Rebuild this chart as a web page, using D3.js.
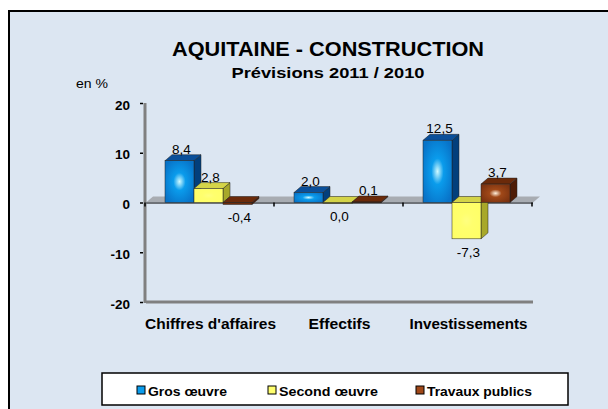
<!DOCTYPE html>
<html>
<head>
<meta charset="utf-8">
<script src="https://cdn.jsdelivr.net/npm/d3@7"></script>
<style>
  body { margin: 0; background: #fff; }
  svg { display: block; font-family: "Liberation Sans", Arial, sans-serif; }
</style>
</head>
<body>
<div id="chart"></div>
<script>
const W = 608, H = 409;

// data
const categories = ["Chiffres d'affaires", "Effectifs", "Investissements"];
const seriesNames = ["Gros œuvre", "Second œuvre", "Travaux publics"];
const grosOeuvre = [8.4, 2.0, 12.5];
const secondOeuvre = [2.8, 0.0, -7.3];
const travauxPublics = [-0.4, 0.1, 3.7];
const yTicks = [-20, -10, 0, 10, 20];

const seriesValues = [grosOeuvre, secondOeuvre, travauxPublics];

// colours per series: front (edge, centre), top, side
const palette = [
  {edge: "#0873c8", mid: "#0a9cec", hi: "#d0faff", top: "#0a4f9a", side: "#023f7c"},
  {edge: "#ffff66", mid: "#ffff6e", hi: "#ffff80", top: "#d4d448", side: "#a8a82a"},
  {edge: "#7a3210", mid: "#a04818", hi: "#fff0dc", top: "#6b2a0a", side: "#4e1c06"}
];

const dx = 7, dy = -6; // 3d depth

const svg = d3.select("#chart").append("svg")
  .attr("width", W).attr("height", H);

const defs = svg.append("defs");
palette.forEach((p, i) => {
  const g = defs.append("radialGradient").attr("id", "grad" + i)
    .attr("cx", "50%").attr("cy", "50%").attr("r", "60%");
  g.append("stop").attr("offset", "0%").attr("stop-color", p.hi);
  g.append("stop").attr("offset", "35%").attr("stop-color", p.mid);
  g.append("stop").attr("offset", "100%").attr("stop-color", p.edge);
});

// background box
svg.append("rect")
  .attr("x", 9).attr("y", 11).attr("width", W + 10).attr("height", H + 10)
  .attr("fill", "#dce6f2").attr("stroke", "#000").attr("stroke-width", 2);

// titles
svg.append("text").attr("x", 328).attr("y", 56)
  .attr("text-anchor", "middle").attr("font-weight", "bold")
  .attr("font-size", 19.5).attr("textLength", 312).attr("lengthAdjust", "spacingAndGlyphs")
  .text("AQUITAINE - CONSTRUCTION");
svg.append("text").attr("x", 328).attr("y", 78)
  .attr("text-anchor", "middle").attr("font-weight", "bold")
  .attr("font-size", 15).attr("textLength", 193).attr("lengthAdjust", "spacingAndGlyphs")
  .text("Prévisions 2011 / 2010");
svg.append("text").attr("x", 92).attr("y", 88)
  .attr("text-anchor", "middle").attr("font-size", 13.5)
  .attr("textLength", 32).attr("lengthAdjust", "spacingAndGlyphs")
  .text("en %");

// scales
const x = d3.scaleBand().domain(categories).range([145, 532]);
const xs = d3.scaleBand().domain(seriesNames).range([20, 107]);
const y = d3.scaleLinear().domain([-20, 20]).range([302, 103]);

// y axis wall edge
svg.append("line")
  .attr("x1", 145).attr("x2", 145).attr("y1", y(20)).attr("y2", y(-20) + 1)
  .attr("stroke", "#808080").attr("stroke-width", 3);
svg.append("line")
  .attr("x1", 146).attr("x2", 533).attr("y1", y(-20)).attr("y2", y(-20))
  .attr("stroke", "#808080").attr("stroke-width", 3);

const yAxis = d3.axisLeft(y).tickValues(yTicks).tickSize(3).tickPadding(10)
  .tickFormat(d => String(d));
const ya = svg.append("g").attr("transform", "translate(143,0)").call(yAxis);
ya.select(".domain").remove();
ya.selectAll(".tick line").attr("stroke", "#000").attr("stroke-width", 1.5);
ya.selectAll(".tick text").attr("font-size", 13.5).attr("font-weight", "bold")
  .attr("dy", "0.45em")
  .attr("font-family", "Liberation Sans, Arial, sans-serif").attr("fill", "#000");

// zero floor band
svg.append("polygon")
  .attr("points", [[146, y(0)], [146 + dx, y(0) + dy], [533 + dx, y(0) + dy], [533, y(0)]].join(" "))
  .attr("fill", "#a8acb2");
svg.append("line")
  .attr("x1", 146).attr("x2", 533).attr("y1", y(0) + 0.5).attr("y2", y(0) + 0.5)
  .attr("stroke", "#6e7278").attr("stroke-width", 2);

// x ticks on zero line
const xTickPos = [145, ...categories.map(c => x(c) + x.bandwidth())];
svg.selectAll(".xt").data(xTickPos).enter().append("line")
  .attr("x1", d => d).attr("x2", d => d)
  .attr("y1", y(0)).attr("y2", y(0) + 4)
  .attr("stroke", "#000").attr("stroke-width", 1.5);

// category labels
const catWidths = [131, 62, 118];
svg.selectAll(".cat").data(categories).enter().append("text")
  .attr("x", d => x(d) + x.bandwidth() / 2 + 1).attr("y", 329)
  .attr("text-anchor", "middle").attr("font-weight", "bold").attr("font-size", 15.5)
  .attr("textLength", (d, i) => catWidths[i]).attr("lengthAdjust", "spacingAndGlyphs")
  .text(d => d);

// bars
const bars = [];
seriesValues.forEach((vals, si) => {
  vals.forEach((v, ci) => {
    bars.push({s: si, c: ci, v: v});
  });
});

const order = bars.slice().sort((a, b) => (a.c - b.c) || (a.s - b.s));
order.forEach(b => {
  const p = palette[b.s];
  const x0 = x(categories[b.c]) + xs(seriesNames[b.s]);
  const w = xs.bandwidth();
  const yTop = Math.min(y(b.v), y(0));
  const yBot = Math.max(y(b.v), y(0));
  const h = Math.max(yBot - yTop, 0.8);
  const g = svg.append("g");
  // side
  g.append("polygon")
    .attr("points", [[x0 + w, yTop], [x0 + w + dx, yTop + dy], [x0 + w + dx, yTop + h + dy], [x0 + w, yTop + h]].join(" "))
    .attr("fill", p.side).attr("stroke", "#222").attr("stroke-width", 0.5);
  // top
  g.append("polygon")
    .attr("points", [[x0, yTop], [x0 + dx, yTop + dy], [x0 + w + dx, yTop + dy], [x0 + w, yTop]].join(" "))
    .attr("fill", p.top).attr("stroke", "#222").attr("stroke-width", 0.5);
  // front
  g.append("rect")
    .attr("x", x0).attr("y", yTop).attr("width", w).attr("height", h)
    .attr("fill", h > 4 ? "url(#grad" + b.s + ")" : p.top)
    .attr("stroke", "#222").attr("stroke-width", 0.5);
});

// value labels
const fmt = v => v.toFixed(1).replace(".", ",");
bars.forEach(b => {
  const x0 = x(categories[b.c]) + xs(seriesNames[b.s]);
  const w = xs.bandwidth();
  const above = b.v > 0.05;
  svg.append("text")
    .attr("x", x0 + w / 2 + 2)
    .attr("y", above ? y(b.v) - 7 : Math.max(y(b.v), y(0)) + 18)
    .attr("text-anchor", "middle").attr("font-size", 13.5)
    .text(fmt(b.v));
});

// legend
const lg = svg.append("g");
lg.append("rect").attr("x", 102).attr("y", 373).attr("width", 466).attr("height", 32)
  .attr("fill", "#fff").attr("stroke", "#000").attr("stroke-width", 1.5);
const legendX = [137, 268, 416];
const legendW = [79, 99, 105];
seriesNames.forEach((n, i) => {
  const p = palette[i];
  lg.append("rect").attr("x", legendX[i]).attr("y", 386).attr("width", 8).attr("height", 8)
    .attr("fill", p.mid).attr("stroke", "#000").attr("stroke-width", 1);
  lg.append("text").attr("x", legendX[i] + 11).attr("y", 396)
    .attr("font-size", 13).attr("font-weight", "bold")
    .attr("textLength", legendW[i]).attr("lengthAdjust", "spacingAndGlyphs")
    .text(n);
});
</script>
</body>
</html>
